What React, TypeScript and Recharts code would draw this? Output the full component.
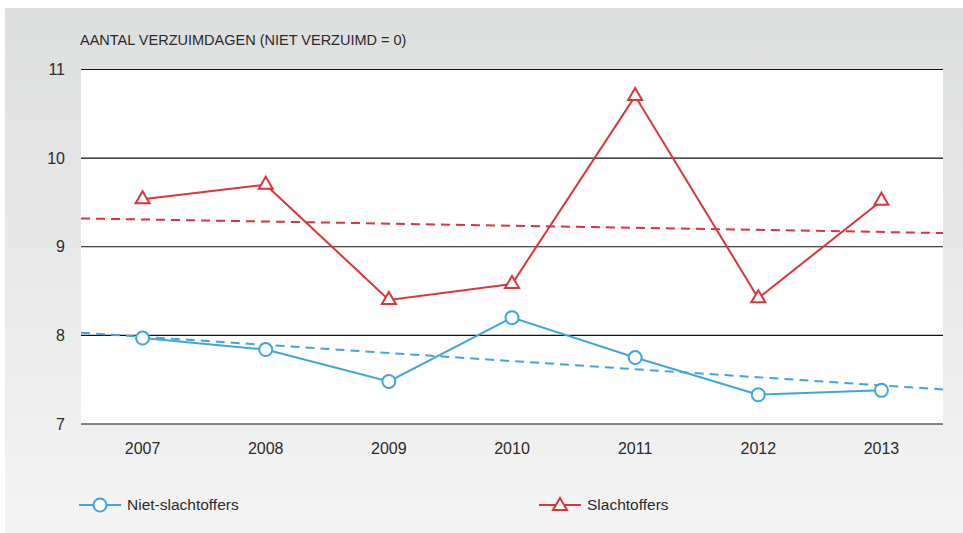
import { LineChart, Line, XAxis, YAxis, CartesianGrid } from "recharts";

const years = [2007, 2008, 2009, 2010, 2011, 2012, 2013];
const nietSlachtoffers = [7.97, 7.84, 7.48, 8.2, 7.75, 7.33, 7.38];
const slachtoffers = [9.535, 9.7, 8.4, 8.58, 10.7, 8.42, 9.52];

// trend lines, read at the left and right edge of the plot
const trendYears = [2006.5, 2013.5];
const nietTrend = [8.03, 7.39];
const slachtTrend = [9.32, 9.155];

const yTicks = [7, 8, 9, 10, 11];

const BLUE = "#3fa5de";
const RED = "#dc3439";
const FONT = "'Liberation Sans', Arial, sans-serif";
const TEXT = "#2b2b2b";

const data = years.map((year, i) => ({
  year,
  niet: nietSlachtoffers[i],
  slacht: slachtoffers[i],
}));
const nietTrendData = trendYears.map((year, i) => ({ year, nietTrend: nietTrend[i] }));
const slachtTrendData = trendYears.map((year, i) => ({ year, slachtTrend: slachtTrend[i] }));

function Circle({ cx, cy }: { cx?: number; cy?: number }) {
  if (cx == null || cy == null) return null;
  return <circle cx={cx} cy={cy} r={6.5} fill="#fff" stroke={BLUE} strokeWidth={2} />;
}

function Triangle({ cx, cy }: { cx?: number; cy?: number }) {
  if (cx == null || cy == null) return null;
  const pts = `${cx},${cy - 8} ${cx + 7},${cy + 4} ${cx - 7},${cy + 4}`;
  return <polygon points={pts} fill="#fff" stroke={RED} strokeWidth={2} strokeLinejoin="miter" />;
}

function LegendItem({ left, color, label, shape }: { left: number; color: string; label: string; shape: "circle" | "triangle" }) {
  return (
    <div style={{ position: "absolute", left, top: 0, display: "flex", alignItems: "center" }}>
      <svg width={44} height={20}>
        <line x1={0} y1={10} x2={42} y2={10} stroke={color} strokeWidth={2} />
        {shape === "circle" ? (
          <circle cx={21} cy={10} r={6.5} fill="#fff" stroke={color} strokeWidth={2} />
        ) : (
          <polygon points="21,3 28,15 14,15" fill="#fff" stroke={color} strokeWidth={2} />
        )}
      </svg>
      <span style={{ marginLeft: 4, fontSize: 15.5, color: TEXT, fontFamily: FONT }}>{label}</span>
    </div>
  );
}

export default function App() {
  return (
    <div style={{ position: "fixed", left: 0, top: 0, width: 963, height: 533, background: "#fff" }}>
      <div
        style={{
          position: "absolute",
          left: 5,
          top: 8,
          width: 958,
          height: 525,
          background: "linear-gradient(to bottom, #dddede, #f4f4f4)",
        }}
      />
      <div
        style={{
          position: "absolute",
          left: 80,
          top: 32,
          fontSize: 14.5,
          lineHeight: "16px",
          color: TEXT,
          fontFamily: FONT,
          whiteSpace: "nowrap",
        }}
      >
        AANTAL VERZUIMDAGEN (NIET VERZUIMD = 0)
      </div>
      <div style={{ position: "absolute", left: 0, top: 0 }}>
        <LineChart width={963} height={533} data={data} margin={{ top: 69.5, right: 20, bottom: 79, left: 0 }}>
          <CartesianGrid vertical={false} stroke="#111" strokeWidth={1.2} fill="#fff" fillOpacity={1} />
          <XAxis
            dataKey="year"
            type="number"
            domain={[2006.5, 2013.5]}
            ticks={years}
            allowDataOverflow
            height={30}
            axisLine={false}
            tickLine={false}
            tickSize={0}
            tickMargin={19}
            tick={{ fontSize: 16, fill: TEXT, fontFamily: FONT }}
          />
          <YAxis
            width={81}
            domain={[7, 11]}
            ticks={yTicks}
            axisLine={false}
            tickLine={false}
            tickSize={0}
            tickMargin={16}
            tick={{ fontSize: 16, fill: TEXT, fontFamily: FONT }}
          />
          <Line
            data={nietTrendData}
            dataKey="nietTrend"
            stroke={BLUE}
            strokeWidth={2}
            strokeDasharray="9 6"
            dot={false}
            activeDot={false}
            isAnimationActive={false}
          />
          <Line
            data={slachtTrendData}
            dataKey="slachtTrend"
            stroke={RED}
            strokeWidth={2}
            strokeDasharray="9 6"
            dot={false}
            activeDot={false}
            isAnimationActive={false}
          />
          <Line
            dataKey="niet"
            stroke={BLUE}
            strokeWidth={2}
            dot={<Circle />}
            activeDot={false}
            isAnimationActive={false}
          />
          <Line
            dataKey="slacht"
            stroke={RED}
            strokeWidth={2}
            dot={<Triangle />}
            activeDot={false}
            isAnimationActive={false}
          />
        </LineChart>
      </div>
      <div style={{ position: "absolute", left: 0, top: 495, width: 963, height: 20 }}>
        <LegendItem left={79} color={BLUE} label="Niet-slachtoffers" shape="circle" />
        <LegendItem left={539} color={RED} label="Slachtoffers" shape="triangle" />
      </div>
    </div>
  );
}
